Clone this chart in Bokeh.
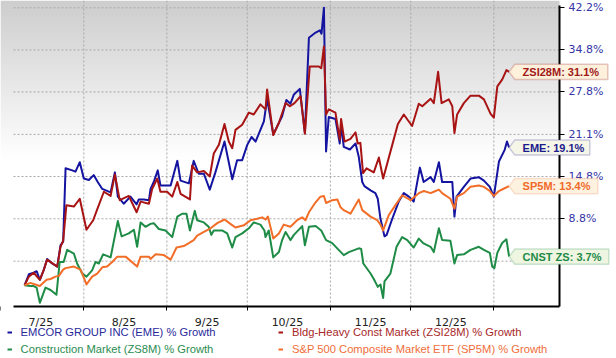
import math
from bokeh.plotting import figure
from bokeh.models import (Range1d, FixedTicker, CustomJSTickFormatter, PolyAnnotation,
                          Label, Legend, LegendItem)
from bokeh.embed import file_html
from bokeh.resources import INLINE

# ---------------- data (x = days since 2025-08-01, y = % growth) ----------------
month_starts = [-31, 0, 31, 61, 92, 122, 153]
month_labels = ["7/25", "8/25", "9/25", "10/25", "11/25", "12/25"]
y_tick_pct = [42.2, 34.8, 27.8, 21.1, 14.8, 8.8, 3.1]
y_tick_labels = ["42.2%", "34.8%", "27.8%", "21.1%", "14.8%", "8.8%", ""]

eme_days = [-22.1, -20.5, -18.7, -17.6, -16.4, -14.9, -13.7, -11.8, -9.9, -8.7, -7.7, -6.8, -4.3, -3.1,
            -1.5, 0.0, 1.9, 3.7, 5.2, 6.9, 10.0, 11.6, 12.7, 14.9, 17.4, 19.7, 20.5, 22.4, 24.3, 24.9,
            26.1, 27.6, 28.6, 32.4, 34.9, 36.1, 39.2, 41.0, 42.9, 44.8, 47.0, 49.1, 52.5, 55.4, 57.2,
            59.1, 61.0, 62.6, 64.1, 67.2, 68.4, 70.7, 74.0, 75.6, 77.1, 78.4, 80.6, 82.5, 84.0, 86.5,
            88.1, 88.7, 89.6, 90.4, 91.4, 93.9, 95.5, 96.0, 97.0, 99.3, 101.4, 102.6, 103.9, 104.7,
            107.0, 108.8, 109.7, 110.7, 112.2, 113.0, 115.1, 117.5, 119.4, 121.3, 123.1, 125.4, 126.8,
            129.4, 130.6, 132.5, 133.7, 137.5, 138.3, 139.1, 141.8, 144.3, 147.4, 149.3, 151.5, 153.0,
            154.9, 157.0, 157.9, 158.7]
eme_pct = [0.0, 1.4, 1.6, 1.8, 0.7, 2.0, 3.4, 2.8, 2.4, 5.2, 5.7, 16.0, 15.7, 15.5,
           16.9, 14.5, 14.3, 15.0, 14.0, 13.0, 12.5, 15.4, 11.9, 10.9, 11.9, 10.8, 11.5, 11.5, 11.4, 13.0,
           14.0, 15.7, 13.5, 13.5, 17.1, 14.2, 13.8, 17.1, 15.2, 15.2, 12.9, 15.4, 20.0, 14.4, 17.2,
           17.2, 19.5, 20.7, 20.0, 23.1, 26.7, 21.1, 23.9, 26.5, 25.9, 27.4, 28.3, 21.3, 36.9, 37.8,
           38.2, 37.6, 42.2, 18.5, 23.8, 23.5, 19.7, 22.6, 19.2, 18.8, 19.7, 17.7, 14.0, 13.4,
           12.8, 12.4, 11.6, 8.8, 6.4, 6.6, 8.8, 11.2, 12.4, 11.9, 11.2, 16.1, 14.0,
           14.7, 14.0, 16.9, 14.0, 14.0, 9.1, 11.9, 13.3, 14.5, 14.7, 14.2, 13.3, 11.9,
           17.0, 18.7, 20.0, 19.1]

zsi_days = [-22.1, -20.5, -18.7, -16.4, -14.9, -13.7, -9.9, -8.7, -7.7, -6.5, -3.7, -1.5, 1.0, 3.5, 5.0,
            7.5, 10.0, 11.6, 13.4, 16.8, 19.7, 21.2, 24.3, 25.5, 27.4, 28.6, 31.1, 33.0, 34.9, 36.1,
            39.6, 40.4, 42.3, 44.8, 47.0, 48.5, 50.4, 52.5, 54.1, 55.4, 56.6, 59.1, 61.6, 63.4, 65.9,
            67.8, 68.4, 70.7, 72.8, 75.3, 76.9, 78.6, 80.9, 82.5, 84.3, 87.7, 88.6, 89.6, 90.4, 91.4,
            93.9, 95.5, 96.0, 97.3, 99.5, 101.4, 102.2, 103.2, 104.2, 105.5, 108.2, 110.1, 111.7, 115.1,
            117.2, 119.4, 122.5, 125.0, 126.3, 129.4, 130.6, 132.2, 133.5, 136.2, 137.5, 138.3, 139.3,
            141.8, 144.3, 147.4, 149.3, 151.8, 153.0, 154.3, 156.1, 157.7, 158.7]
zsi_pct = [0.0, 1.1, 1.6, 0.7, 2.0, 3.3, 2.4, 5.0, 5.8, 10.7, 10.5, 11.6, 7.3, 8.6, 10.1,
           12.6, 12.0, 15.1, 11.4, 12.0, 9.7, 11.2, 10.9, 13.0, 14.5, 12.6, 12.6, 11.9, 14.0, 12.3,
           11.5, 16.4, 15.4, 15.6, 14.8, 18.2, 19.5, 22.7, 20.0, 19.0, 21.8, 22.6, 24.5, 24.2, 25.8,
           25.0, 28.2, 21.0, 22.9, 26.0, 25.5, 26.0, 27.1, 21.2, 32.0, 32.0, 31.7, 35.4, 24.2, 25.0,
           24.5, 20.3, 23.5, 20.0, 20.4, 21.4, 19.7, 19.8, 15.3, 16.0, 15.4, 17.6, 14.5, 19.5,
           22.7, 24.2, 22.4, 25.9, 25.5, 26.7, 26.0, 31.1, 26.0, 26.6, 25.5, 21.3, 24.2,
           26.0, 27.2, 27.2, 26.6, 24.3, 23.7, 28.7, 29.8, 31.4, 31.1]

zs8_days = [-22.1, -20.1, -18.7, -17.6, -16.4, -14.3, -12.4, -10.2, -9.0, -7.5, -6.2, -3.7, -2.5, -0.6,
            1.0, 3.1, 4.4, 5.6, 7.2, 10.0, 12.7, 14.1, 16.8, 18.7, 19.9, 21.2, 23.0, 24.9, 26.1, 28.0,
            30.5, 33.0, 34.9, 36.7, 38.3, 39.6, 41.4, 42.3, 44.8, 46.6, 47.6, 48.5, 51.6, 53.5, 55.4,
            56.6, 59.1, 61.6, 63.4, 65.9, 67.4, 67.8, 69.0, 70.7, 72.8, 74.0, 75.3, 77.1, 78.4, 81.5,
            82.5, 84.0, 86.5, 88.6, 90.4, 92.7, 95.1, 97.0, 98.9, 102.6, 103.5, 104.3, 107.0, 108.2,
            109.7, 110.7, 111.7, 112.2, 114.4, 116.7, 118.8, 120.7, 123.1, 125.0, 126.6, 129.4, 130.6,
            132.5, 133.7, 136.8, 138.3, 139.3, 141.8, 144.3, 147.4, 149.3, 151.5, 152.4, 153.2, 154.3,
            156.1, 157.7, 158.7]
zs8_pct = [0.0, -0.1, -0.1, -0.3, -2.2, -0.3, -0.6, -1.2, 3.0, 3.0, 4.6, 4.1, 2.8, 1.5,
           1.1, 1.9, 3.0, 2.8, 4.0, 3.6, 8.5, 6.4, 6.8, 7.3, 5.0, 8.3, 7.7, 8.1, 8.2, 7.4,
           7.2, 6.3, 9.1, 9.5, 9.5, 7.2, 9.9, 8.6, 8.3, 7.7, 6.6, 7.2, 7.2, 6.8, 4.9,
           6.3, 6.8, 7.5, 8.3, 8.0, 7.2, 6.3, 7.2, 3.6, 4.3, 5.9, 7.0, 5.9, 6.6, 7.8,
           5.2, 7.7, 7.8, 7.2, 5.9, 5.5, 4.6, 3.9, 4.3, 4.8, 4.7, 2.8, 1.5, 0.8,
           -0.2, 0.1, -1.6, 0.5, 1.5, 5.0, 6.3, 5.9, 4.9, 6.1, 5.5, 5.0, 4.3,
           7.5, 5.9, 5.8, 2.8, 3.9, 4.0, 4.6, 5.0, 4.6, 4.2, 2.4, 2.2, 4.2,
           5.5, 6.0, 3.7]

sp5_days = [-22.1, -19.9, -16.4, -13.9, -12.4, -10.6, -9.3, -7.7, -6.8, -3.7, -1.2, 1.0, 3.1, 5.0, 6.9,
            8.7, 10.6, 12.5, 15.6, 19.9, 21.2, 24.3, 24.9, 26.8, 29.9, 32.4, 34.6, 37.3, 39.2, 41.0,
            42.3, 44.8, 47.3, 49.8, 52.5, 54.7, 56.6, 59.7, 62.2, 64.7, 66.6, 67.8, 68.7, 70.7, 72.8,
            74.6, 77.1, 79.6, 81.5, 82.7, 84.0, 86.5, 88.3, 89.6, 90.4, 92.7, 94.6, 95.8, 97.0, 99.5,
            102.6, 103.9, 107.0, 109.5, 110.7, 111.7, 113.8, 116.3, 118.8, 121.9, 125.0, 126.9, 129.4,
            130.6, 132.5, 133.7, 136.8, 138.3, 139.3, 141.8, 144.3, 147.4, 149.3, 151.5, 153.0, 154.9,
            157.0, 158.7]
sp5_pct = [0.0, 0.3, -0.1, 0.7, 0.8, 1.1, 1.2, 2.0, 2.2, 2.4, 2.0, 0.1, 1.1, 1.5, 2.3,
           2.4, 3.0, 3.7, 3.7, 2.4, 3.7, 3.7, 3.4, 4.0, 3.9, 3.3, 4.9, 5.1, 5.5, 5.9,
           6.5, 7.0, 7.5, 8.2, 8.7, 8.1, 7.6, 7.9, 8.6, 8.8, 9.0, 8.7, 9.1, 6.1, 6.8,
           8.0, 7.7, 8.6, 9.0, 8.6, 9.7, 11.1, 11.9, 12.0, 11.0, 11.4, 11.5, 10.4, 10.0, 9.5,
           11.5, 10.0, 9.1, 8.6, 8.0, 7.2, 9.3, 10.7, 12.1, 11.4, 12.4, 12.7, 12.4,
           12.6, 12.9, 12.4, 11.6, 10.2, 11.9, 12.4, 13.3, 13.5, 13.3, 12.7, 12.0, 12.7,
           13.1, 13.4]

# ---------------- geometry ----------------
W, H = 616, 358
PX_AUG1, PPD = 83.3, 2.68          # pixel of day 0 and pixels per day
PY_REF, REF, PPL = 7.3, 1.422, 788.1  # pixel of the 42.2% tick, px per ln unit
X0 = -PX_AUG1 / PPD
X1 = X0 + W / PPD
LT = math.log(REF) + PY_REF / PPL
YT, YB = math.exp(LT), math.exp(LT - H / PPL)
PL, PR, PT, PB = 13, 559, 5, 306   # plot area box (pixels)

def xd(px):
    return X0 + px / PPD

def yd(py):
    return math.exp(LT - py / PPL)

def gf(vals):
    return [1 + v / 100.0 for v in vals]

C_EME, C_ZSI, C_ZS8, C_SP5 = "#1414a0", "#a81414", "#1e8c46", "#f26e28"

p = figure(width=W, height=H, x_range=Range1d(X0, X1), y_range=Range1d(YB, YT),
           y_axis_type="log", y_axis_location="right", output_backend="svg",
           toolbar_location=None, min_border=0, min_border_left=0, min_border_right=0,
           min_border_top=0, min_border_bottom=0)
p.outline_line_color = None
p.background_fill_color = "white"
p.border_fill_color = "white"
p.grid.visible = False

# background gradient (gray at top fading to white)
g_end, step = 160, 4
tops, bots, cols = [], [], []
for i in range(0, g_end, step):
    t = (i + step / 2) / g_end
    g = int(round(205 + 50 * t))
    tops.append(yd(i))
    bots.append(yd(i + step + 0.6))
    cols.append("#%02x%02x%02x" % (g, g, g))
p.quad(left=xd(0), right=xd(PR), top=tops, bottom=bots, fill_color=cols, line_color=None,
       level="image")

# dashed grid lines limited to the plot box
ytv = gf(y_tick_pct)
p.segment(x0=xd(PL), x1=xd(PR), y0=ytv, y1=ytv, line_color="#a8a8a8", line_width=1,
          line_dash="2 2", level="underlay")
vg = [m for m in month_starts if xd(PL) < m < xd(PR)]
p.segment(x0=vg, x1=vg, y0=yd(0), y1=yd(PB), line_color="#a8a8a8", line_width=1,
          line_dash="2 2", level="underlay")

# x axis (fixed inside the canvas)
label_days = [m + 15 for m in month_starts[:-1]]
xa = p.xaxis[0]
xa.fixed_location = yd(PB)
xa.bounds = (xd(PL), xd(PR))
xa.ticker = FixedTicker(ticks=label_days, minor_ticks=month_starts)
xa.formatter = CustomJSTickFormatter(args=dict(days=label_days, labels=month_labels),
                                     code="const i = days.indexOf(tick); return i >= 0 ? labels[i] : '';")
xa.major_tick_line_color = None
xa.major_tick_out = 0
xa.major_tick_in = 0
xa.minor_tick_out = 4
xa.minor_tick_in = 0
xa.minor_tick_line_color = "black"
xa.axis_line_color = "black"
xa.axis_line_width = 2
xa.major_label_standoff = 5
xa.major_label_text_font = "DejaVu Sans"
xa.major_label_text_font_size = "11px"
xa.major_label_text_color = "#222222"

# y axis (right, log scale of growth factor)
ya = p.yaxis[0]
ya.fixed_location = xd(PR)
ya.bounds = (yd(PB), yd(PT))
ya.ticker = FixedTicker(ticks=ytv)
ya.formatter = CustomJSTickFormatter(args=dict(vals=ytv, labels=y_tick_labels),
    code="for (let i = 0; i < vals.length; i++) { if (Math.abs(vals[i] - tick) < 1e-6) return labels[i]; } return '';")
ya.major_tick_out = 5
ya.major_tick_in = 0
ya.minor_tick_line_color = None
ya.major_tick_line_color = "black"
ya.axis_line_color = "black"
ya.axis_line_width = 2
ya.major_label_standoff = 4
ya.major_label_text_font = "DejaVu Sans"
ya.major_label_text_font_size = "11px"
ya.major_label_text_color = "#3535a5"

# lines
r_eme = p.line(eme_days, gf(eme_pct), line_color=C_EME, line_width=2, line_join="round")
r_zsi = p.line(zsi_days, gf(zsi_pct), line_color=C_ZSI, line_width=2, line_join="round")
r_zs8 = p.line(zs8_days, gf(zs8_pct), line_color=C_ZS8, line_width=2, line_join="round")
r_sp5 = p.line(sp5_days, gf(sp5_pct), line_color=C_SP5, line_width=2, line_join="round")

# end-of-line callouts
def shift(xv, yv, dxp, dyp):
    return xv + dxp / PPD, yv * math.exp(-dyp / PPL)

callouts = [
    ("ZSI28M", zsi_days, zsi_pct, 93, "#a01818", "#b04848", "#fdf1dc"),
    ("EME", eme_days, eme_pct, 75, "#1c1c8c", "#5a5aa8", "#f5f5e8"),
    ("SP5M", sp5_days, sp5_pct, 83, "#f06a28", "#f5a070", "#fdf1e0"),
    ("CNST ZS", zs8_days, zs8_pct, 94, "#1e8a46", "#5aa870", "#eef6e2"),
]
for name, dd, vv, wpx, tc, lc, fc in callouts:
    xl, yl = dd[-1], 1 + vv[-1] / 100.0
    pts = [(0, 0), (5.7, -7.6), (5.7 + wpx, -7.6), (5.7 + wpx, 7.6), (5.7, 7.6)]
    xs, ys = [], []
    for dx, dy in pts:
        a, b = shift(xl, yl, dx, dy)
        xs.append(a)
        ys.append(b)
    p.add_layout(PolyAnnotation(xs=xs, ys=ys, xs_units="data", ys_units="data",
                                fill_color=fc, fill_alpha=1, line_color=lc, line_width=1.5))
    p.add_layout(Label(x=xl, y=yl, x_offset=13.5, text="%s: %.1f%%" % (name, vv[-1]),
                       text_baseline="middle", text_align="left", text_font="Liberation Sans",
                       text_font_size="11px", text_font_style="bold", text_color=tc))

# legend (four single-item legends so each text keeps its series colour)
leg_specs = [
    (r_eme, "EMCOR GROUP INC (EME) % Growth", "#2a2a9c", (6.6, 19.7)),
    (r_zsi, "Bldg-Heavy Const Market (ZSI28M) % Growth", "#a82828", (278, 19.7)),
    (r_zs8, "Construction Market (ZS8M) % Growth", "#2a8c50", (6.6, 3.3)),
    (r_sp5, "S&P 500 Composite Market ETF (SP5M) % Growth", "#f06e3a", (278, 3.3)),
]
for r, lab, col, loc in leg_specs:
    lg = Legend(items=[LegendItem(label=lab, renderers=[r])], location=loc,
                orientation="horizontal", padding=0, margin=0, spacing=0,
                glyph_width=5, glyph_height=12, label_height=12, label_standoff=9,
                label_text_font="Liberation Sans", label_text_font_size="11.2px",
                label_text_color=col, label_text_baseline="middle",
                background_fill_alpha=0, border_line_alpha=0)
    p.add_layout(lg)

open("out.html", "w").write(file_html(p, INLINE))
